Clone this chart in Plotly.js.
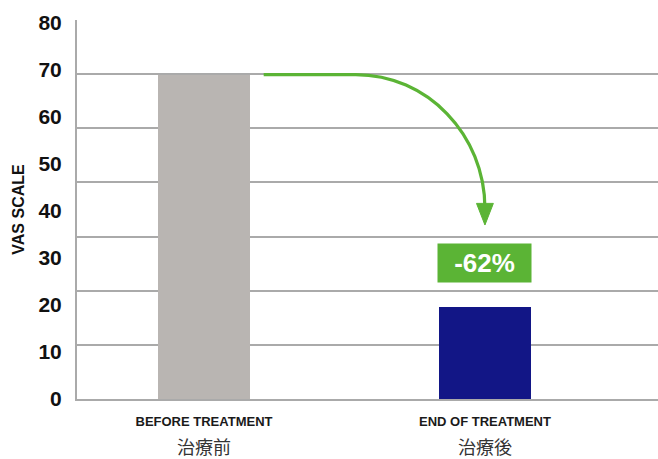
<!DOCTYPE html>
<html>
<head>
<meta charset="utf-8">
<script src="https://cdn.plot.ly/plotly-3.0.1.min.js"></script>
<style>html,body{margin:0;padding:0;background:#fff;}#chart{width:658px;height:459px;}</style>
</head>
<body>
<div id="chart"></div>
<script>
// ---- data ----
const categoriesEn = ["BEFORE TREATMENT", "END OF TREATMENT"];
const categoriesJa = ["治療前", "治療後"];
const vasValues = [69, 19.6];
const barColors = ["#b9b5b2", "#121686"];
const changeLabel = "-62%";
const yTicks = [0, 10, 20, 30, 40, 50, 60, 70, 80];

// ---- layout helpers ----
const xPos = categoriesEn.map((_, i) => i);
const barWidth = 0.325;
const green = "#5bb435";
const fontFam = "'Liberation Sans', Arial, 'Noto Sans CJK JP', sans-serif";

const tickText = categoriesEn.map((en, i) =>
  "<span style='font-size:13px;font-weight:bold'>" + en + "</span><br>" +
  "<span style='font-size:18px;color:#333'>" + categoriesJa[i] + "</span>");

// arrow geometry derived from data positions
const x0 = xPos[0] + barWidth / 2 + 0.05;
const yStart = vasValues[0];
const xCorner = 0.54;
const xEnd = xPos[1];
const yTip = 37.0;
const yLineEnd = 40.5;
const k = 0.5523;
const c1x = xCorner + k * (xEnd - xCorner);
const c2y = yLineEnd + k * (yStart - yLineEnd);
const arrowPath = `M ${x0},${yStart} L ${xCorner},${yStart} C ${c1x},${yStart} ${xEnd},${c2y} ${xEnd},${yLineEnd}`;
const headHalf = 0.03;
const headBase = 41.6;
const headPath = `M ${xEnd - headHalf},${headBase} L ${xEnd + headHalf},${headBase} L ${xEnd},${yTip} Z`;

const traces = [
  {
    type: "bar",
    x: xPos,
    y: vasValues,
    width: barWidth,
    marker: { color: barColors, line: { width: 0 } },
    hoverinfo: "skip",
    yaxis: "y"
  },
  {
    // invisible trace to activate the gridline axis
    type: "scatter",
    x: [xPos[0]],
    y: [0],
    mode: "markers",
    marker: { opacity: 0 },
    hoverinfo: "skip",
    yaxis: "y2"
  }
];

const layout = {
  width: 658,
  height: 459,
  margin: { l: 77, r: 0, t: 20, b: 60 },
  paper_bgcolor: "#ffffff",
  plot_bgcolor: "rgba(0,0,0,0)",
  showlegend: false,
  bargap: 0,
  font: { family: fontFam, color: "#1a1a1a" },
  xaxis: {
    range: [-0.452, 1.616],
    tickvals: xPos,
    ticktext: tickText,
    tickfont: { size: 21, family: fontFam, color: "#1a1a1a" },
    ticks: "",
    showgrid: false,
    zeroline: false,
    showline: true,
    linecolor: "#aaaaaa",
    linewidth: 2,
    ticklabelstandoff: 0,
    fixedrange: true
  },
  yaxis: {
    range: [0, 80.6],
    tickvals: yTicks,
    tickfont: { size: 21, family: fontFam, color: "#111", weight: "bold" },
    ticks: "",
    ticklabelstandoff: 9,
    showgrid: false,
    zeroline: false,
    showline: true,
    linecolor: "#aaaaaa",
    linewidth: 2,
    title: { text: "<b>VAS SCALE</b>", font: { size: 16, family: fontFam, color: "#111" }, standoff: 10 },
    fixedrange: true
  },
  yaxis2: {
    overlaying: "y",
    side: "right",
    range: [0, 7],
    dtick: 1,
    showgrid: true,
    gridcolor: "#aaaaaa",
    gridwidth: 2,
    showticklabels: false,
    zeroline: false,
    showline: false,
    ticks: "",
    fixedrange: true
  },
  shapes: [
    { type: "path", xref: "x", yref: "y", path: arrowPath, line: { color: green, width: 3.2 }, layer: "above" },
    { type: "path", xref: "x", yref: "y", path: headPath, fillcolor: green, line: { color: green, width: 1 }, layer: "above" }
  ],
  annotations: [
    {
      xref: "x", yref: "y",
      x: xPos[1], y: 28.9,
      text: "<b>" + changeLabel + "</b>",
      showarrow: false,
      bgcolor: green,
      width: 93, height: 38,
      borderpad: 0,
      font: { size: 26, color: "#ffffff", family: fontFam },
      xanchor: "center", yanchor: "middle"
    }
  ]
};

Plotly.newPlot("chart", traces, layout, { displayModeBar: false, staticPlot: true });
</script>
</body>
</html>
